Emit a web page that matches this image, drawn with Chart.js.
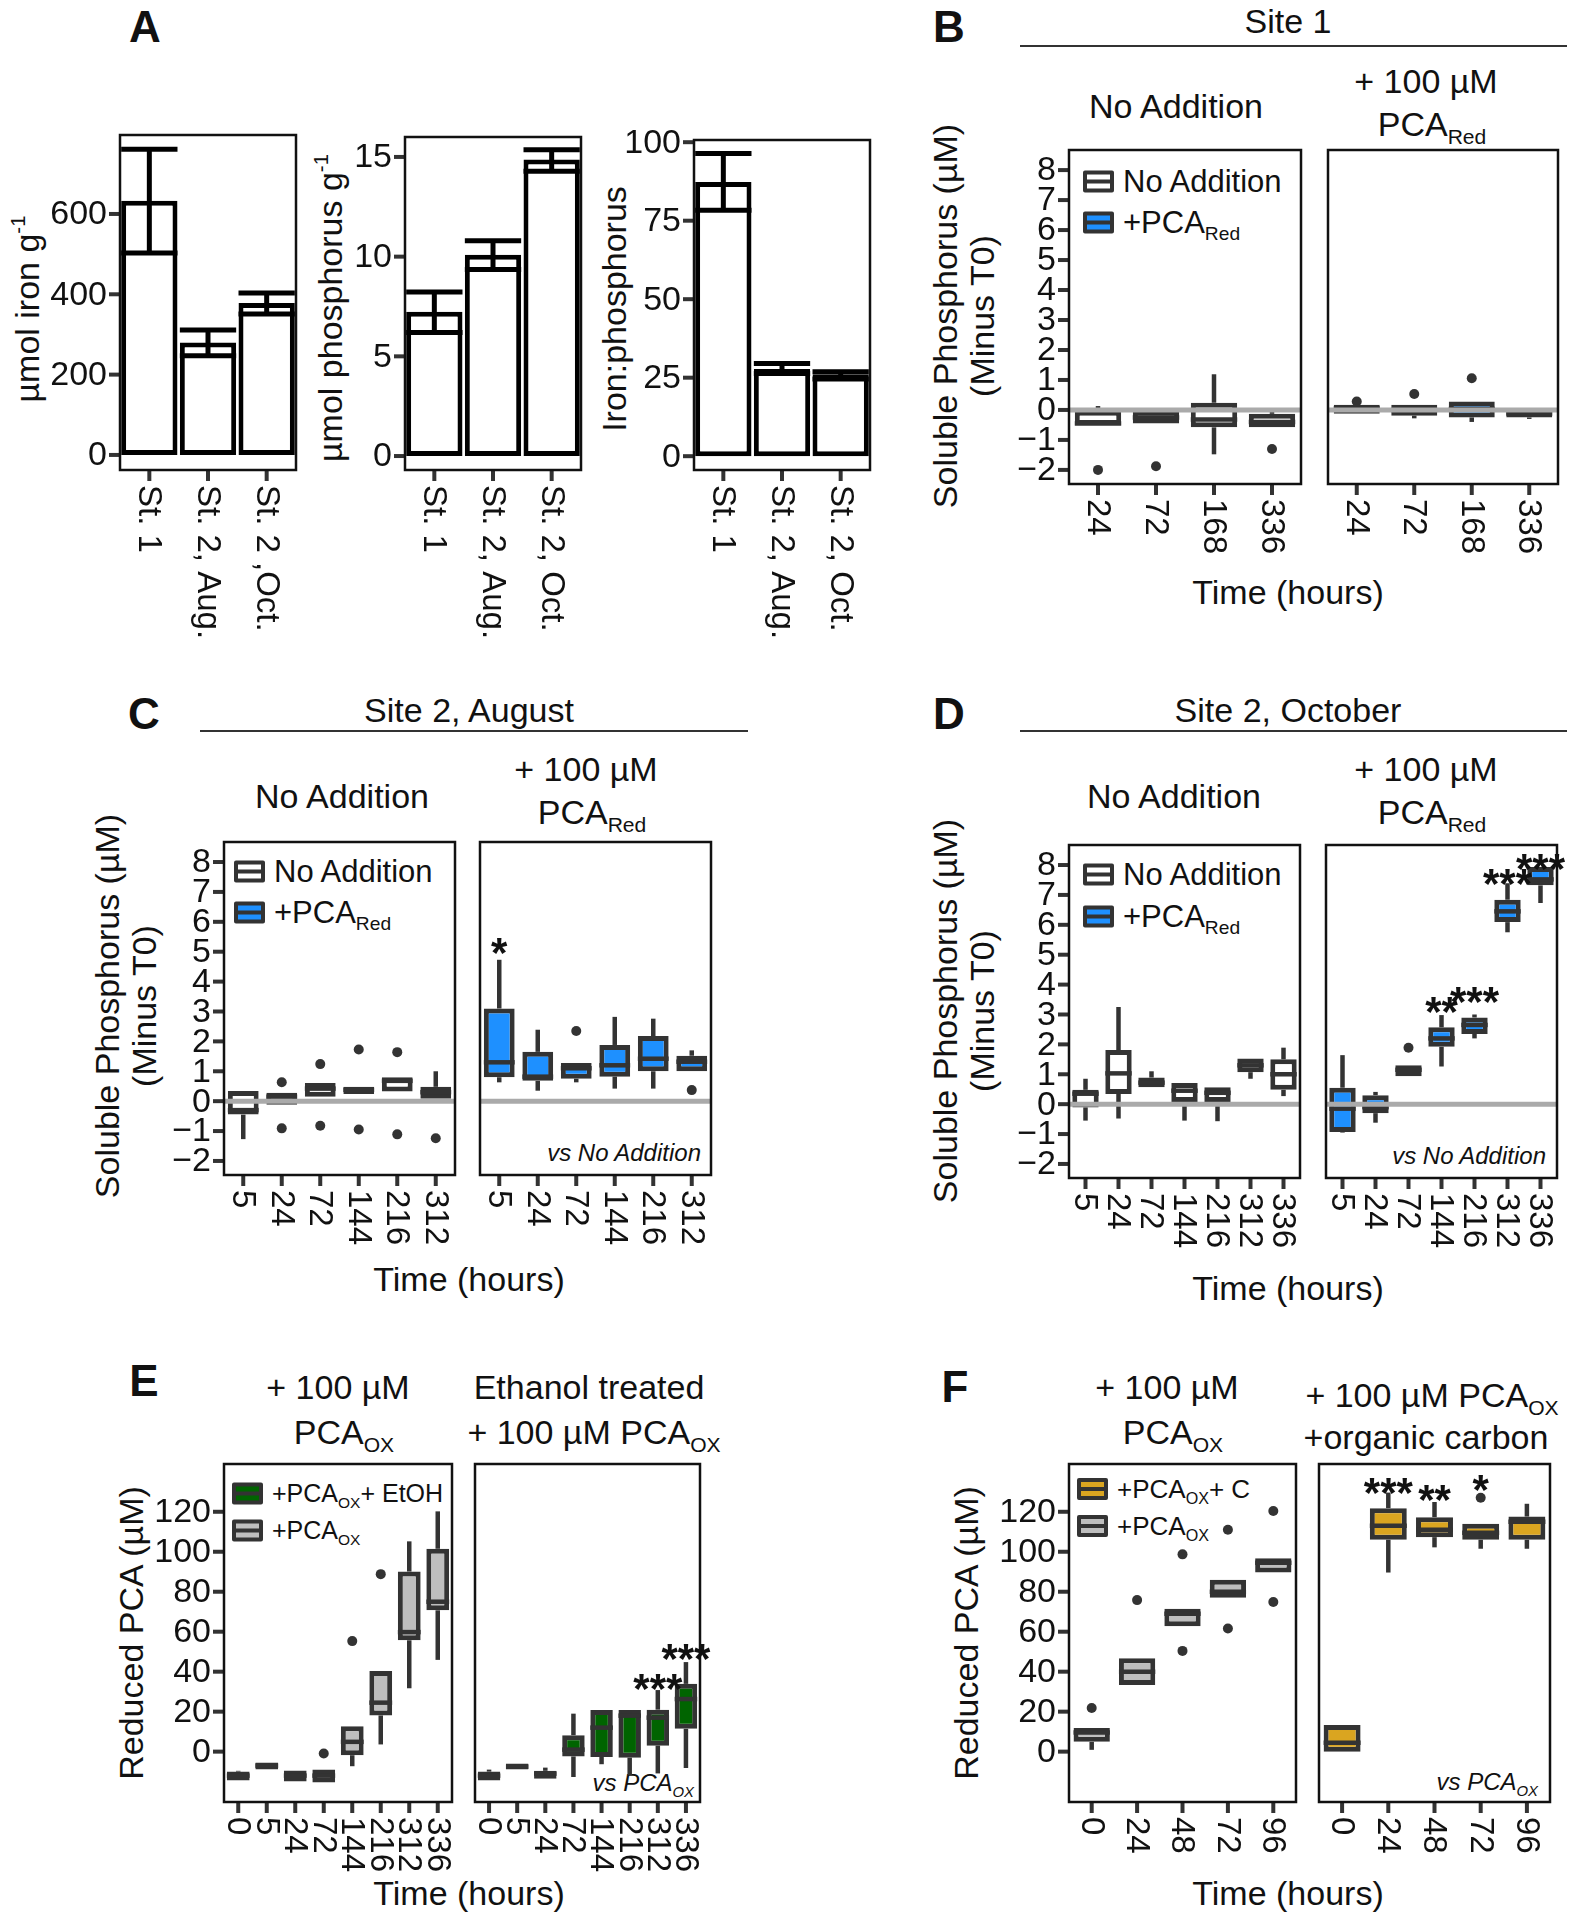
<!DOCTYPE html>
<html>
<head>
<meta charset="utf-8">
<title>Soluble phosphorus and reduced PCA</title>
<script src="https://cdn.jsdelivr.net/npm/chart.js@4.4.1/dist/chart.umd.min.js"></script>
<style>
  body { margin: 0; background: #fff; }
  #fig { position: relative; width: 1573px; height: 1920px; overflow: hidden;
         font-family: "Liberation Sans", Arial, Helvetica, sans-serif; color: #111; }
  #fig canvas { position: absolute; }
  .t { position: absolute; transform: translate(-50%, -50%); white-space: nowrap; font-size: 34px; line-height: 1; }
  .letter { font-weight: bold; font-size: 44px; }
  .rot { transform: translate(-50%, -50%) rotate(-90deg); text-align: center; line-height: 1.1; }
  .rule { position: absolute; height: 2px; background: #333; }
  sub { font-size: 0.62em; vertical-align: -0.4em; line-height: 0; }
  sup { font-size: 0.6em; vertical-align: 0.7em; line-height: 0; }
  .leg { position: absolute; display: flex; align-items: center; font-size: 31px; white-space: nowrap; transform: translateY(-50%); line-height: 1; }
  .key { width: 23px; height: 14px; border: 4px solid #333; border-radius: 2px; position: relative; margin-right: 9px; }
  .key::after { content: ''; position: absolute; left: 0; right: 0; top: 5px; height: 4px; background: #333; }
  .vs { position: absolute; font-style: italic; font-size: 24px; transform: translate(-100%, -50%); white-space: nowrap; line-height: 1; }
</style>
</head>
<body>
<div id="fig">
  <!-- panel letters -->
  <div class="t letter" style="left:145px;top:27px">A</div>
  <div class="t letter" style="left:949px;top:27px">B</div>
  <div class="t letter" style="left:144px;top:714px">C</div>
  <div class="t letter" style="left:949px;top:714px">D</div>
  <div class="t letter" style="left:144px;top:1381px">E</div>
  <div class="t letter" style="left:955px;top:1387px">F</div>

  <!-- A -->
  <div class="t rot" style="left:28px;top:309px">µmol iron g<sup>-1</sup></div>
  <div class="t rot" style="left:331px;top:308px">µmol phosphorus g<sup>-1</sup></div>
  <div class="t rot" style="left:615px;top:309px">Iron:phosphorus</div>

  <!-- B -->
  <div class="t" style="left:1288px;top:21px">Site 1</div>
  <div class="rule" style="left:1020px;top:45px;width:547px"></div>
  <div class="t" style="left:1176px;top:106px">No Addition</div>
  <div class="t" style="left:1426px;top:81px">+ 100 µM</div>
  <div class="t" style="left:1432px;top:124px">PCA<sub>Red</sub></div>
  <div class="t rot" style="left:964px;top:316px">Soluble Phosphorus (µM)<br>(Minus T0)</div>
  <div class="t" style="left:1288px;top:592px">Time (hours)</div>
  <div class="leg" style="left:1083px;top:181px"><span class="key" style="background:#fff"></span><span>No Addition</span></div>
  <div class="leg" style="left:1083px;top:222px"><span class="key" style="background:#1e90ff"></span><span>+PCA<sub>Red</sub></span></div>

  <!-- C -->
  <div class="t" style="left:469px;top:710px">Site 2, August</div>
  <div class="rule" style="left:200px;top:730px;width:548px"></div>
  <div class="t" style="left:342px;top:796px">No Addition</div>
  <div class="t" style="left:586px;top:769px">+ 100 µM</div>
  <div class="t" style="left:592px;top:812px">PCA<sub>Red</sub></div>
  <div class="t rot" style="left:126px;top:1006px">Soluble Phosphorus (µM)<br>(Minus T0)</div>
  <div class="t" style="left:469px;top:1279px">Time (hours)</div>
  <div class="leg" style="left:234px;top:871px"><span class="key" style="background:#fff"></span><span>No Addition</span></div>
  <div class="leg" style="left:234px;top:912px"><span class="key" style="background:#1e90ff"></span><span>+PCA<sub>Red</sub></span></div>
  <div class="vs" style="left:701px;top:1153px">vs No Addition</div>

  <!-- D -->
  <div class="t" style="left:1288px;top:710px">Site 2, October</div>
  <div class="rule" style="left:1020px;top:730px;width:547px"></div>
  <div class="t" style="left:1174px;top:796px">No Addition</div>
  <div class="t" style="left:1426px;top:769px">+ 100 µM</div>
  <div class="t" style="left:1432px;top:812px">PCA<sub>Red</sub></div>
  <div class="t rot" style="left:964px;top:1011px">Soluble Phosphorus (µM)<br>(Minus T0)</div>
  <div class="t" style="left:1288px;top:1288px">Time (hours)</div>
  <div class="leg" style="left:1083px;top:874px"><span class="key" style="background:#fff"></span><span>No Addition</span></div>
  <div class="leg" style="left:1083px;top:916px"><span class="key" style="background:#1e90ff"></span><span>+PCA<sub>Red</sub></span></div>
  <div class="vs" style="left:1546px;top:1156px">vs No Addition</div>

  <!-- E -->
  <div class="t" style="left:338px;top:1387px">+ 100 µM</div>
  <div class="t" style="left:344px;top:1432px">PCA<sub>OX</sub></div>
  <div class="t" style="left:589px;top:1387px">Ethanol treated</div>
  <div class="t" style="left:594px;top:1432px">+ 100 µM PCA<sub>OX</sub></div>
  <div class="t rot" style="left:132px;top:1633px">Reduced PCA (µM)</div>
  <div class="t" style="left:469px;top:1893px">Time (hours)</div>
  <div class="leg" style="left:232px;top:1493px;font-size:25px"><span class="key" style="background:#006400"></span><span>+PCA<sub>OX</sub>+ EtOH</span></div>
  <div class="leg" style="left:232px;top:1530px;font-size:25px"><span class="key" style="background:#bebebe"></span><span>+PCA<sub>OX</sub></span></div>
  <div class="vs" style="left:694px;top:1783px">vs PCA<sub>OX</sub></div>

  <!-- F -->
  <div class="t" style="left:1167px;top:1387px">+ 100 µM</div>
  <div class="t" style="left:1173px;top:1432px">PCA<sub>OX</sub></div>
  <div class="t" style="left:1432px;top:1395px">+ 100 µM PCA<sub>OX</sub></div>
  <div class="t" style="left:1426px;top:1437px">+organic carbon</div>
  <div class="t rot" style="left:967px;top:1633px">Reduced PCA (µM)</div>
  <div class="t" style="left:1288px;top:1893px">Time (hours)</div>
  <div class="leg" style="left:1077px;top:1489px;font-size:26px"><span class="key" style="background:#daa520"></span><span>+PCA<sub>OX</sub>+ C</span></div>
  <div class="leg" style="left:1077px;top:1526px;font-size:26px"><span class="key" style="background:#bebebe"></span><span>+PCA<sub>OX</sub></span></div>
  <div class="vs" style="left:1538px;top:1782px">vs PCA<sub>OX</sub></div>
</div>

<script>
// ---------- data ----------
// Panel A: sediment chemistry (mean, lower and upper error)
const sitesA1 = ['St. 1', 'St. 2, Aug.', 'St. 2 ,Oct.'];
const sitesA = ['St. 1', 'St. 2, Aug.', 'St. 2, Oct.'];
const ironMean = [633, 280, 378];
const ironLow = [503, 247, 351];
const ironHigh = [761, 311, 403];
const phosMean = [7.24, 10.1, 14.87];
const phosLow = [6.2, 9.36, 14.28];
const phosHigh = [8.23, 10.8, 15.36];
const ratioMean = [87.3, 27.8, 26.1];
const ratioLow = [78.3, 26.3, 24.6];
const ratioHigh = [96.4, 29.5, 26.9];

const ironTicks = [0, 200, 400, 600];
const phosGTicks = [0, 5, 10, 15];
const ratioTicks = [0, 25, 50, 75, 100];
const solTicks = [-2, -1, 0, 1, 2, 3, 4, 5, 6, 7, 8];
const pcaTicks = [0, 20, 40, 60, 80, 100, 120];

// time points (hours)
const hoursB = ['24', '72', '168', '336'];
const hoursC = ['5', '24', '72', '144', '216', '312'];
const hoursD = ['5', '24', '72', '144', '216', '312', '336'];
const hoursE = ['0', '5', '24', '72', '144', '216', '312', '336'];
const hoursF = ['0', '24', '48', '72', '96'];

// boxes: [min, q1, median, q3, max]; outliers per time point
const bNoAdd = [[-0.5, -0.5, -0.45, -0.03, 0.13], [-0.45, -0.45, -0.25, -0.03, -0.03], [-1.48, -0.58, -0.32, 0.24, 1.19], [-0.58, -0.58, -0.4, -0.13, -0.07]];
const bNoAddOut = [[-2.0], [-1.88], [], [-1.3]];
const bPca = [[-0.13, -0.13, 0.05, 0.17, 0.17], [-0.28, -0.19, 0.0, 0.17, 0.17], [-0.4, -0.25, 0.03, 0.28, 0.28], [-0.3, -0.25, -0.12, 0.01, 0.01]];
const bPcaOut = [[0.28], [0.53], [1.06], []];

const cNoAdd = [[-1.27, -0.45, -0.3, 0.34, 0.34], [-0.12, -0.12, 0.15, 0.28, 0.28], [0.15, 0.15, 0.42, 0.61, 0.61], [0.24, 0.24, 0.38, 0.48, 0.48], [0.32, 0.32, 0.68, 0.8, 0.8], [0.08, 0.08, 0.3, 0.48, 1.0]];
const cNoAddOut = [[], [0.63, -0.91], [1.24, -0.82], [1.73, -0.95], [1.64, -1.11], [-1.24]];
const cPca = [[0.63, 0.8, 1.3, 3.1, 4.73], [0.35, 0.68, 0.82, 1.65, 2.39], [0.63, 0.75, 1.1, 1.28, 1.28], [0.42, 0.82, 1.2, 1.88, 2.82], [0.42, 1.0, 1.42, 2.18, 2.76], [1.0, 1.0, 1.32, 1.52, 1.7]];
const cPcaOut = [[], [], [2.35], [], [], [0.37]];

const dNoAdd = [[-0.55, -0.11, 0.35, 0.48, 0.85], [-0.48, 0.34, 1.03, 1.81, 3.25], [0.57, 0.57, 0.72, 0.89, 1.1], [-0.55, 0.07, 0.45, 0.71, 0.71], [-0.57, 0.07, 0.38, 0.57, 0.57], [0.85, 1.07, 1.3, 1.53, 1.53], [0.27, 0.48, 1.0, 1.5, 1.89]];
const dNoAddOut = [[], [], [], [], [], [], []];
const dPca = [[-0.95, -0.93, -0.15, 0.55, 1.64], [-0.62, -0.3, -0.1, 0.3, 0.41], [0.93, 0.93, 1.15, 1.3, 1.3], [1.26, 1.92, 2.2, 2.57, 2.98], [2.2, 2.35, 2.65, 2.9, 3.0], [5.75, 6.09, 6.45, 6.84, 7.39], [6.73, 7.32, 7.52, 7.93, 7.93]];
const dPcaOut = [[], [], [1.89], [], [], [], []];

const eOx = [[-14.5, -14.5, -12, -10, -9.6], [-9, -9, -7, -5.4, -5.4], [-15, -15, -12, -9.4, -9.4], [-15.4, -15.4, -12, -9, -9], [-7.3, -1.8, 4.9, 12.7, 12.7], [3.6, 18.1, 24.5, 40.4, 40.4], [31.7, 55.7, 59.8, 90.1, 105.2], [45.9, 70.7, 75, 101.5, 120.2]];
const eOxOut = [[], [], [], [-0.9], [55.3], [88.8], [], []];
const eEtoh = [[-14.5, -14.5, -12, -10, -9], [-9, -9, -7.5, -6, -6], [-13.6, -13.6, -11, -9.6, -8], [-12.7, -2.4, 1.0, 8.2, 19], [-6.3, -2.7, 12, 20.8, 20.8], [-11.8, -3, 18, 20.8, 20.8], [-10.9, 3, 17, 21, 30.8], [-8.2, 11.4, 26.3, 33.9, 44.8]];
const eEtohOut = [[], [], [], [], [], [], [], []];

const fOx = [[0.9, 4.9, 9.6, 11.8, 11.8], [33.3, 33.3, 40, 46.7, 46.7], [62.7, 62.7, 69, 71.5, 71.5], [77, 77, 80, 86, 86], [89.6, 89.6, 94.5, 96.7, 96.7]];
const fOxOut = [[21.8], [75.8], [98.7, 50.4], [111, 61.6], [120.4, 74.9]];
const fCarbon = [[0, 0, 4.5, 13.3, 13.3], [89.6, 106, 113, 121.8, 129.6], [102.2, 107.3, 111, 117.3, 124.9], [101.5, 106, 109.5, 114, 114], [101.5, 106, 115, 117.6, 124]];
const fCarbonOut = [[], [], [], [127], []];

// significance marks and the height (data units) they sit at
const cStars = ['*', '', '', '', '', ''];
const cStarY = [5.29, null, null, null, null, null];
const dStars = ['', '', '', '**', '***', '***', '***'];
const dStarY = [null, null, null, 3.42, 3.76, 7.69, 8.21];
const eStars = ['', '', '', '', '', '', '***', '***'];
const eStarY = [null, null, null, null, null, null, 36.3, 51.3];
const fStars = ['', '***', '**', '*', ''];
const fStarY = [null, 134.5, 130.9, 135.8, null];

// ---------- styles ----------
const DARK = '#333333';
const INK = '#111111';
const FONT = '"Liberation Sans", Arial, Helvetica, sans-serif';
const WHITE = '#ffffff', BLUE = '#1e90ff', GREEN = '#006400', GOLD = '#daa520', GRAY = '#bebebe';

// ---------- helpers ----------
function seg(ctx, x1, y1, x2, y2) {
    ctx.beginPath();
    ctx.moveTo(x1, y1);
    ctx.lineTo(x2, y2);
    ctx.stroke();
}

function fmt(v) {
    return v < 0 ? '\u2212' + (-v) : String(v);
}

// canvas whose chart area lands exactly on the frame [x0, y0, x1, y1]
function place(frame, pad) {
    const c = document.createElement('canvas');
    const w = frame[2] - frame[0] + pad.left + pad.right;
    const h = frame[3] - frame[1] + pad.top + pad.bottom;
    c.width = w;
    c.height = h;
    c.style.left = (frame[0] - pad.left) + 'px';
    c.style.top = (frame[1] - pad.top) + 'px';
    c.style.width = w + 'px';
    c.style.height = h + 'px';
    document.getElementById('fig').appendChild(c);
    return c;
}

// frame, tick marks and tick labels (x labels rotated clockwise)
function axesPlugin(yTicks) {
    return {
        id: 'axes',
        afterDraw(chart) {
            const { ctx, chartArea: a, scales: { x, y } } = chart;
            ctx.save();
            ctx.strokeStyle = DARK;
            ctx.lineWidth = 4;
            ctx.fillStyle = INK;
            if (yTicks) {
                ctx.font = '34px ' + FONT;
                ctx.textAlign = 'right';
                ctx.textBaseline = 'middle';
                yTicks.forEach(v => {
                    const py = y.getPixelForValue(v);
                    seg(ctx, a.left - 11, py, a.left, py);
                    ctx.fillText(fmt(v), a.left - 13, py + 1);
                });
            }
            ctx.font = '33px ' + FONT;
            chart.data.labels.forEach((lab, i) => {
                const px = x.getPixelForValue(i);
                seg(ctx, px, a.bottom, px, a.bottom + 11);
                ctx.save();
                ctx.translate(px, a.bottom + 15);
                ctx.rotate(Math.PI / 2);
                ctx.textAlign = 'left';
                ctx.textBaseline = 'middle';
                ctx.fillText(lab, 0, 1);
                ctx.restore();
            });
            ctx.strokeStyle = INK;
            ctx.lineWidth = 2.5;
            ctx.strokeRect(a.left, a.top, a.right - a.left, a.bottom - a.top);
            ctx.restore();
        }
    };
}

// whiskers, medians, zero line and significance stars
function boxPlugin(boxes, stars, starY, zeroLine) {
    return {
        id: 'boxExtras',
        afterDatasetsDraw(chart) {
            const { ctx, chartArea: a, scales: { y } } = chart;
            const meta = chart.getDatasetMeta(0);
            ctx.save();
            ctx.strokeStyle = DARK;
            ctx.lineWidth = 4.5;
            boxes.forEach((b, i) => {
                const bar = meta.data[i];
                const half = bar.width / 2;
                seg(ctx, bar.x, y.getPixelForValue(b[3]), bar.x, y.getPixelForValue(b[4]));
                seg(ctx, bar.x, y.getPixelForValue(b[1]), bar.x, y.getPixelForValue(b[0]));
                const pm = y.getPixelForValue(b[2]);
                seg(ctx, bar.x - half, pm, bar.x + half, pm);
            });
            if (zeroLine) {
                ctx.strokeStyle = '#aaaaaa';
                ctx.lineWidth = 5;
                const p0 = y.getPixelForValue(0);
                seg(ctx, a.left, p0, a.right, p0);
            }
            if (stars) {
                // asterisk glyph centre sits ~0.57em above the baseline
                ctx.fillStyle = INK;
                ctx.font = 'bold 42px ' + FONT;
                ctx.textAlign = 'center';
                ctx.textBaseline = 'alphabetic';
                stars.forEach((s, i) => {
                    if (!s) return;
                    ctx.fillText(s, meta.data[i].x, y.getPixelForValue(starY[i]) + 24);
                });
            }
            ctx.restore();
        }
    };
}

// error bars for panel A
function errPlugin(low, high) {
    return {
        id: 'errbars',
        afterDatasetsDraw(chart) {
            const { ctx, scales: { y } } = chart;
            const meta = chart.getDatasetMeta(0);
            ctx.save();
            ctx.strokeStyle = '#000';
            ctx.lineWidth = 5;
            low.forEach((lo, i) => {
                const bar = meta.data[i];
                const h = bar.width / 2;
                const yl = y.getPixelForValue(lo);
                const yh = y.getPixelForValue(high[i]);
                seg(ctx, bar.x, yl, bar.x, yh);
                seg(ctx, bar.x - h, yl, bar.x + h, yl);
                seg(ctx, bar.x - h, yh, bar.x + h, yh);
            });
            ctx.restore();
        }
    };
}

function barChart(frame, labels, mean, low, high, yMin, yMax, yTicks) {
    const pad = { left: 100, right: 10, top: 30, bottom: 200 };
    new Chart(place(frame, pad), {
        type: 'bar',
        data: {
            labels: labels,
            datasets: [{
                data: mean,
                backgroundColor: WHITE,
                borderColor: '#000',
                borderWidth: 5,
                borderSkipped: false,
                barPercentage: 0.96,
                categoryPercentage: 1
            }]
        },
        options: {
            responsive: false,
            animation: false,
            layout: { padding: pad },
            scales: {
                x: { display: false, offset: true },
                y: { display: false, min: yMin, max: yMax }
            },
            plugins: { legend: { display: false }, tooltip: { enabled: false } }
        },
        plugins: [errPlugin(low, high), axesPlugin(yTicks)]
    });
}

function boxChart(frame, labels, boxes, outliers, fill, yMin, yMax, yTicks, stars, starY, zeroLine) {
    const pad = { left: 90, right: 14, top: 50, bottom: 110 };
    const points = [];
    outliers.forEach((list, i) => list.forEach(v => points.push({ x: labels[i], y: v })));
    new Chart(place(frame, pad), {
        type: 'bar',
        data: {
            labels: labels,
            datasets: [{
                type: 'bar',
                data: boxes.map(b => [b[1], b[3]]),
                backgroundColor: fill,
                borderColor: DARK,
                borderWidth: 5,
                borderSkipped: false,
                barPercentage: 0.8,
                categoryPercentage: 1,
                order: 1
            }, {
                type: 'scatter',
                data: points,
                pointRadius: 5,
                pointBackgroundColor: DARK,
                pointBorderWidth: 0,
                order: 0
            }]
        },
        options: {
            responsive: false,
            animation: false,
            layout: { padding: pad },
            scales: {
                x: { type: 'category', display: false, offset: true },
                y: { display: false, min: yMin, max: yMax }
            },
            plugins: { legend: { display: false }, tooltip: { enabled: false } }
        },
        plugins: [boxPlugin(boxes, stars, starY, zeroLine), axesPlugin(yTicks)]
    });
}

// ---------- draw ----------
const SOL_MIN = -2.47, SOL_MAX = 8.67;
const PCA_MIN = -25.2, PCA_MAX = 143.9;

barChart([120, 135, 296, 470], sitesA1, ironMean, ironLow, ironHigh, -37.5, 796.6, ironTicks);
barChart([405, 137, 581, 470], sitesA, phosMean, phosLow, phosHigh, -0.7, 16.0, phosGTicks);
barChart([694, 140, 870, 470], sitesA, ratioMean, ratioLow, ratioHigh, -4.4, 100.7, ratioTicks);

boxChart([1069, 150, 1301, 484], hoursB, bNoAdd, bNoAddOut, WHITE, SOL_MIN, SOL_MAX, solTicks, null, null, true);
boxChart([1328, 150, 1558, 484], hoursB, bPca, bPcaOut, BLUE, SOL_MIN, SOL_MAX, null, null, null, true);

boxChart([224, 842, 455, 1175], hoursC, cNoAdd, cNoAddOut, WHITE, SOL_MIN, SOL_MAX, solTicks, null, null, true);
boxChart([480, 842, 711, 1175], hoursC, cPca, cPcaOut, BLUE, SOL_MIN, SOL_MAX, null, cStars, cStarY, true);

boxChart([1069, 845, 1300, 1178], hoursD, dNoAdd, dNoAddOut, WHITE, SOL_MIN, SOL_MAX, solTicks, null, null, true);
boxChart([1326, 845, 1557, 1178], hoursD, dPca, dPcaOut, BLUE, SOL_MIN, SOL_MAX, null, dStars, dStarY, true);

boxChart([224, 1464, 452, 1802], hoursE, eOx, eOxOut, GRAY, PCA_MIN, PCA_MAX, pcaTicks, null, null, false);
boxChart([475, 1464, 700, 1802], hoursE, eEtoh, eEtohOut, GREEN, PCA_MIN, PCA_MAX, null, eStars, eStarY, false);

boxChart([1069, 1464, 1296, 1802], hoursF, fOx, fOxOut, GRAY, PCA_MIN, PCA_MAX, pcaTicks, null, null, false);
boxChart([1319, 1464, 1550, 1802], hoursF, fCarbon, fCarbonOut, GOLD, PCA_MIN, PCA_MAX, null, fStars, fStarY, false);
</script>
</body>
</html>
